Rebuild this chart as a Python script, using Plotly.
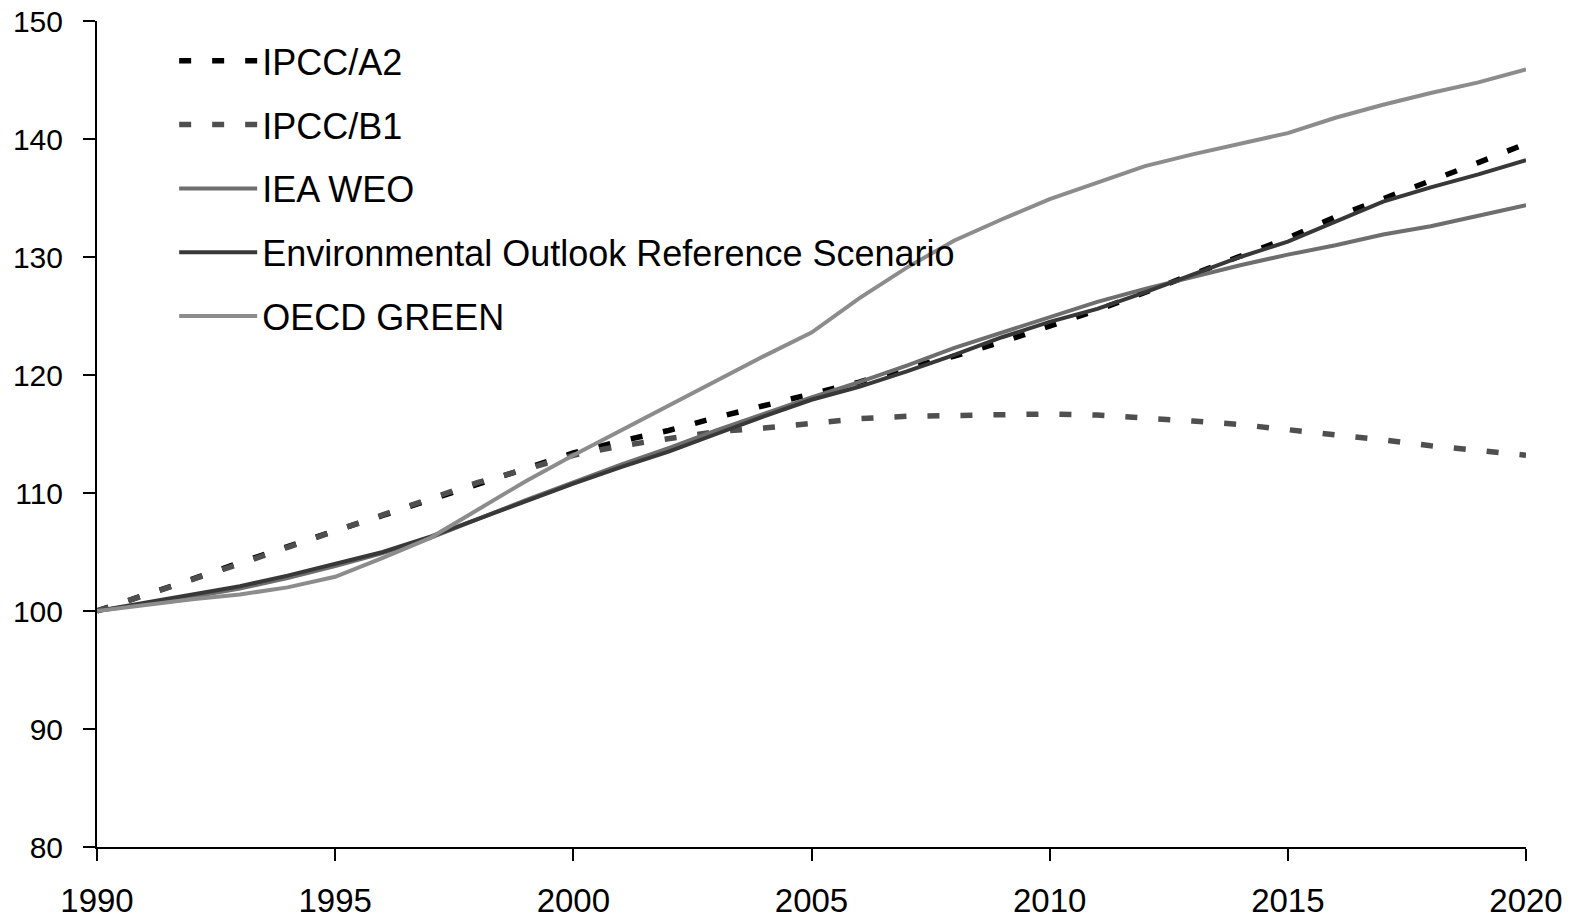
import plotly.graph_objects as go

years = list(range(1990, 2021))

ipcc_a2 = [100.0, 101.3, 102.7, 104.1, 105.5, 106.8, 108.1, 109.4, 110.8, 112.1,
           113.4, 114.4, 115.3, 116.4, 117.4, 118.4, 119.4, 120.6, 121.6, 122.8,
           124.1, 125.5, 127.0, 128.5, 130.1, 131.6, 133.4, 134.9, 136.5, 138.0,
           139.6]
ipcc_b1 = [100.0, 101.3, 102.6, 104.0, 105.4, 106.8, 108.1, 109.5, 110.9, 112.0,
           113.2, 114.0, 114.6, 115.2, 115.5, 115.9, 116.3, 116.5, 116.6, 116.7,
           116.7, 116.6, 116.4, 116.1, 115.8, 115.4, 114.9, 114.5, 114.0, 113.6,
           113.2]
iea_weo = [100.0, 100.6, 101.2, 101.9, 102.8, 103.8, 104.9, 106.2, 107.8, 109.4,
           110.9, 112.4, 113.8, 115.3, 116.7, 118.1, 119.4, 120.8, 122.3, 123.6,
           124.9, 126.2, 127.3, 128.3, 129.3, 130.2, 131.0, 131.9, 132.6, 133.5,
           134.4]
env_outlook = [100.0, 100.7, 101.4, 102.1, 103.0, 104.0, 105.0, 106.3, 107.8, 109.3,
               110.8, 112.2, 113.5, 115.0, 116.5, 117.9, 119.0, 120.3, 121.7, 123.2,
               124.5, 125.6, 127.0, 128.5, 130.0, 131.3, 133.0, 134.7, 135.9, 137.0,
               138.2]
oecd_green = [100.0, 100.5, 101.0, 101.4, 102.0, 102.9, 104.5, 106.2, 108.6, 111.0,
              113.2, 115.3, 117.4, 119.5, 121.6, 123.6, 126.5, 129.1, 131.4, 133.2,
              134.9, 136.3, 137.7, 138.7, 139.6, 140.5, 141.8, 142.9, 143.9, 144.8,
              145.9]

series = [
    ("IPCC/A2", ipcc_a2, "#000000", 5.5, "12px,21px"),
    ("IPCC/B1", ipcc_b1, "#4f4f4f", 5.5, "12px,21px"),
    ("IEA WEO", iea_weo, "#6e6e6e", 4, "solid"),
    ("Environmental Outlook Reference Scenario", env_outlook, "#383838", 4, "solid"),
    ("OECD GREEN", oecd_green, "#8c8c8c", 4, "solid"),
]

fig = go.Figure()
for i, (name, vals, color, width, dash) in enumerate(series):
    fig.add_trace(go.Scatter(
        x=years, y=vals, name=name, mode="lines",
        legendgroup=f"g{i}",
        line=dict(color=color, width=width, dash=dash),
    ))

axis_font = dict(family="Liberation Sans, Arial, sans-serif", color="#000000")

fig.update_layout(
    width=1585,
    height=922,
    margin=dict(l=97, r=59, t=21, b=75),
    paper_bgcolor="white",
    plot_bgcolor="white",
    font=dict(family="Liberation Sans, Arial, sans-serif", color="#000000"),
    showlegend=True,
    legend=dict(
        x=0.054, y=0.988, xanchor="left", yanchor="top",
        font=dict(size=36, family="Liberation Sans, Arial, sans-serif", color="#000000"),
        bgcolor="rgba(0,0,0,0)",
        tracegroupgap=14,
        itemwidth=78,
    ),
    xaxis=dict(
        range=[1990, 2020],
        tickvals=[1990, 1995, 2000, 2005, 2010, 2015, 2020],
        showgrid=False, zeroline=False,
        showline=True, linecolor="#000000", linewidth=2,
        ticks="outside", ticklen=12, tickwidth=2, tickcolor="#000000",
        tickfont=dict(size=33, **axis_font),
        ticklabelstandoff=11,
        automargin=False,
    ),
    yaxis=dict(
        range=[80, 150],
        tickvals=[80, 90, 100, 110, 120, 130, 140, 150],
        showgrid=False, zeroline=False,
        showline=True, linecolor="#000000", linewidth=2,
        ticks="outside", ticklen=12, tickwidth=2, tickcolor="#000000",
        tickfont=dict(size=30, **axis_font),
        ticklabelstandoff=14,
        automargin=False,
    ),
)

# drop the default page margin so the chart sits at the window's top-left
fig.write_html(
    "out.html",
    config={"displayModeBar": False},
    post_script="document.body.style.margin='0';",
)
